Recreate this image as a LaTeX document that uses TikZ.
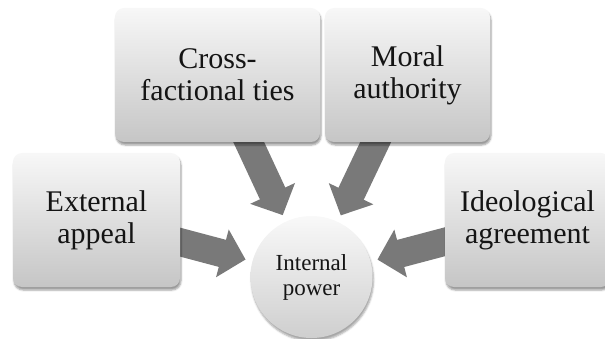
\documentclass[tikz,border=0pt]{standalone}
\usepackage{fontspec}
\setmainfont{Liberation Serif}
\usetikzlibrary{arrows.meta,shadows.blur}
\pgfdeclarelayer{bg}
\pgfsetlayers{bg,main}

\begin{document}
\begin{tikzpicture}[x=1pt,y=1pt,
  factor/.style={rounded corners=9pt, minimum height=134pt, inner sep=0pt, align=center,
    text=black!92, top color=gray!6, bottom color=gray!45,
    blur shadow={shadow xshift=1pt, shadow yshift=-3pt, shadow opacity=40},
    font=\rmfamily\fontsize{30}{32}\selectfont},
  core/.style={circle, minimum size=122pt, inner sep=0pt, align=center,
    text=black!92, top color=gray!5, bottom color=gray!38,
    blur shadow={shadow xshift=1pt, shadow yshift=-3pt, shadow opacity=35},
    font=\rmfamily\fontsize{23}{25}\selectfont},
  push/.style={line width=28pt, draw=gray!95!black, -{Triangle[length=24pt,width=48pt]},
    shorten <=-12pt, shorten >=7pt}]
\useasboundingbox (0,0) rectangle (605,-339);
\node[core] (pow) at (311.5,-277) {Internal\\power};
\node[factor, minimum width=205pt] (ties) at (217.5,-75) {Cross-\\factional ties};
\node[factor, minimum width=165pt] (moral) at (407.5,-75) {Moral\\authority};
\node[factor, minimum width=167pt] (ext) at (96.5,-220) {External\\appeal};
\node[factor, minimum width=165pt] (ideo) at (527.5,-220) {Ideological\\agreement};
\begin{pgfonlayer}{bg}
\draw[push] (ties) -- (pow);
\draw[push] (moral) -- (pow);
\draw[push] (ext) -- (pow);
\draw[push] (ideo) -- (pow);
\end{pgfonlayer}
\end{tikzpicture}
\end{document}
